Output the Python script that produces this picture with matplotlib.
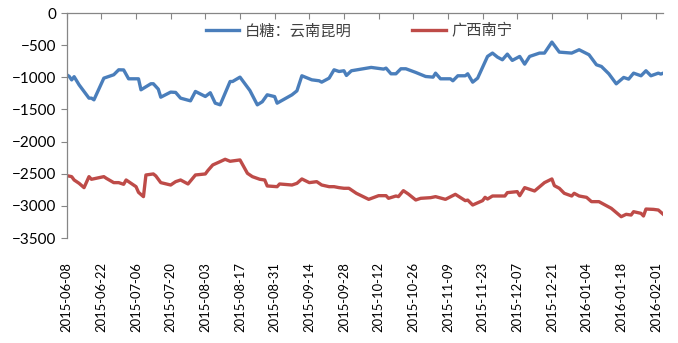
import pandas as pd
import matplotlib.pyplot as plt
import matplotlib.dates as mdates

plt.rcParams['font.family'] = ['Lato', 'Noto Sans CJK SC', 'DejaVu Sans']

# 白糖：云南昆明
km_dates = ['2015-06-08', '2015-06-09', '2015-06-10', '2015-06-11', '2015-06-13', '2015-06-17',
            '2015-06-18', '2015-06-19', '2015-06-23', '2015-06-27', '2015-06-29', '2015-07-01',
            '2015-07-03', '2015-07-07', '2015-07-08', '2015-07-12', '2015-07-13', '2015-07-15',
            '2015-07-16', '2015-07-20', '2015-07-22', '2015-07-24', '2015-07-28', '2015-07-30',
            '2015-08-03', '2015-08-05', '2015-08-07', '2015-08-09', '2015-08-13', '2015-08-14',
            '2015-08-17', '2015-08-21', '2015-08-24', '2015-08-26', '2015-08-28', '2015-08-31',
            '2015-09-01', '2015-09-07', '2015-09-09', '2015-09-11', '2015-09-15', '2015-09-18',
            '2015-09-19', '2015-09-22', '2015-09-24', '2015-09-26', '2015-09-28', '2015-09-29',
            '2015-10-01', '2015-10-09', '2015-10-14', '2015-10-15', '2015-10-17', '2015-10-19',
            '2015-10-21', '2015-10-23', '2015-10-27', '2015-10-31', '2015-11-03', '2015-11-04',
            '2015-11-06', '2015-11-10', '2015-11-11', '2015-11-13', '2015-11-16', '2015-11-17',
            '2015-11-19', '2015-11-21', '2015-11-25', '2015-11-27', '2015-11-29', '2015-12-01',
            '2015-12-03', '2015-12-05', '2015-12-08', '2015-12-10', '2015-12-12', '2015-12-16',
            '2015-12-18', '2015-12-21', '2015-12-24', '2015-12-29', '2016-01-01', '2016-01-05',
            '2016-01-08', '2016-01-10', '2016-01-13', '2016-01-16', '2016-01-19', '2016-01-21',
            '2016-01-23', '2016-01-26', '2016-01-28', '2016-01-30', '2016-02-02', '2016-02-03',
            '2016-02-04']
km_vals = [-960, -985, -1040, -990, -1117, -1324,
           -1324, -1350, -1013, -960, -883, -885,
           -1023, -1023, -1194, -1100, -1100, -1184,
           -1309, -1230, -1235, -1324, -1366, -1220,
           -1298, -1240, -1402, -1428, -1065, -1065,
           -997, -1205, -1428, -1380, -1272, -1300,
           -1402, -1272, -1210, -976, -1039, -1054,
           -1075, -1013, -883, -909, -898, -971,
           -898, -846, -872, -857, -945, -945,
           -867, -867, -924, -987, -997, -935,
           -1023, -1023, -1054, -976, -976, -945,
           -1075, -1013, -675, -623, -685, -727,
           -639, -737, -675, -795, -675, -623,
           -623, -452, -608, -623, -571, -649,
           -805, -831, -945, -1101, -1002, -1028,
           -935, -976, -898, -976, -935, -950,
           -935]

# 广西南宁
nn_dates = ['2015-06-08', '2015-06-10', '2015-06-11', '2015-06-13', '2015-06-15', '2015-06-17',
            '2015-06-18', '2015-06-23', '2015-06-24', '2015-06-27', '2015-06-29', '2015-07-01',
            '2015-07-02', '2015-07-06', '2015-07-07', '2015-07-09', '2015-07-10', '2015-07-13',
            '2015-07-14', '2015-07-16', '2015-07-20', '2015-07-22', '2015-07-24', '2015-07-27',
            '2015-07-30', '2015-08-03', '2015-08-04', '2015-08-06', '2015-08-09', '2015-08-11',
            '2015-08-13', '2015-08-17', '2015-08-20', '2015-08-22', '2015-08-25', '2015-08-27',
            '2015-08-28', '2015-09-01', '2015-09-02', '2015-09-07', '2015-09-09', '2015-09-11',
            '2015-09-14', '2015-09-17', '2015-09-19', '2015-09-22', '2015-09-24', '2015-09-26',
            '2015-09-28', '2015-09-30', '2015-10-03', '2015-10-08', '2015-10-12', '2015-10-15',
            '2015-10-16', '2015-10-19', '2015-10-20', '2015-10-22', '2015-10-24', '2015-10-27',
            '2015-10-29', '2015-11-02', '2015-11-04', '2015-11-08', '2015-11-12', '2015-11-16',
            '2015-11-17', '2015-11-19', '2015-11-23', '2015-11-24', '2015-11-25', '2015-11-27',
            '2015-11-30', '2015-12-02', '2015-12-03', '2015-12-07', '2015-12-08', '2015-12-10',
            '2015-12-14', '2015-12-18', '2015-12-21', '2015-12-22', '2015-12-24', '2015-12-26',
            '2015-12-29', '2015-12-30', '2016-01-01', '2016-01-04', '2016-01-06', '2016-01-09',
            '2016-01-14', '2016-01-18', '2016-01-20', '2016-01-22', '2016-01-23', '2016-01-26',
            '2016-01-27', '2016-01-28', '2016-01-31', '2016-02-02', '2016-02-04']
nn_vals = [-2529, -2545, -2597, -2649, -2716, -2545,
           -2586, -2545, -2571, -2638, -2638, -2664,
           -2597, -2701, -2789, -2856, -2519, -2503,
           -2534, -2638, -2675, -2623, -2597, -2659,
           -2519, -2503, -2451, -2363, -2311, -2275,
           -2306, -2285, -2493, -2545, -2586, -2597,
           -2690, -2701, -2659, -2675, -2649, -2581,
           -2638, -2623, -2675, -2701, -2701, -2716,
           -2726, -2726, -2804, -2898, -2841, -2841,
           -2882, -2846, -2856, -2763, -2815, -2908,
           -2882, -2872, -2856, -2898, -2820, -2918,
           -2910, -2986, -2918, -2867, -2893, -2846,
           -2846, -2846, -2794, -2778, -2841, -2716,
           -2768, -2638, -2581, -2685, -2726, -2804,
           -2846, -2804, -2846, -2867, -2934, -2934,
           -3038, -3168, -3131, -3142, -3090, -3116,
           -3157, -3049, -3054, -3064, -3131]

tick_dates = pd.date_range('2015-06-08', '2016-02-01', freq='14D')

fig = plt.figure(figsize=(6.78, 3.43), dpi=100)
ax = fig.add_axes([0.0984, 0.306, 0.8799, 0.656])

ax.plot(pd.to_datetime(km_dates), km_vals, color='#4A7EBB', lw=2.4, label='白糖：云南昆明',
        solid_joinstyle='round')
ax.plot(pd.to_datetime(nn_dates), nn_vals, color='#BE4B48', lw=2.4, label='广西南宁',
        solid_joinstyle='round')

ax.set_ylim(-3500, 0)
ax.set_yticks(range(-3500, 1, 500))
ax.set_xlim(pd.Timestamp('2015-06-08'), pd.Timestamp('2016-02-04'))
ax.set_xticks(tick_dates)
ax.xaxis.set_major_formatter(mdates.DateFormatter('%Y-%m-%d'))

for s in ['bottom', 'right']:
    ax.spines[s].set_visible(False)
for s in ['top', 'left']:
    ax.spines[s].set_color('#868686')
    ax.spines[s].set_linewidth(0.9)

ax.tick_params(axis='x', top=True, bottom=False, labeltop=False, labelbottom=True,
               direction='in', length=4, color='#868686', labelrotation=90, pad=17,
               labelsize=9.4)
ax.tick_params(axis='y', direction='out', length=4, color='#868686', labelsize=11)

ax.legend(loc='upper center', bbox_to_anchor=(0.49, 1.0), ncol=2, frameon=False,
          prop={'family': ['Noto Sans CJK SC', 'DejaVu Sans'], 'size': 11},
          handlelength=2.2, handletextpad=0.35, columnspacing=4.0, borderaxespad=0.2,
          labelcolor='#404040')

fig.savefig('out.png', dpi=100)
